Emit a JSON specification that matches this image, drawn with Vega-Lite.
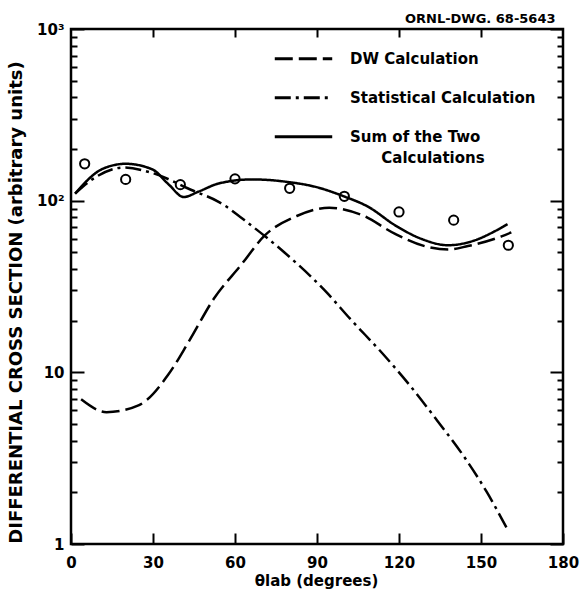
{
  "$schema": "https://vega.github.io/schema/vega-lite/v6.json",
  "width": 492,
  "height": 515,
  "autosize": "none",
  "padding": {"left": 71, "top": 29, "right": 21, "bottom": 51},
  "background": "white",
  "config": {
    "font": "DejaVu Sans",
    "view": {"stroke": "black", "strokeWidth": 2.5},
    "axis": {"grid": false, "domain": false, "tickColor": "black", "tickWidth": 2, "labelColor": "black", "labelFont": "DejaVu Sans", "labelFontWeight": "bold", "labelFontSize": 15, "titleColor": "black", "titleFont": "DejaVu Sans", "titleFontWeight": "bold", "titleFontSize": 15}
  },
  "data": {"values": [
      {"series": "DW Calculation", "angle": 3.7, "sigma": 6.96},
      {"series": "DW Calculation", "angle": 13, "sigma": 5.86},
      {"series": "DW Calculation", "angle": 24.9, "sigma": 6.45},
      {"series": "DW Calculation", "angle": 35.6, "sigma": 9.7},
      {"series": "DW Calculation", "angle": 43.3, "sigma": 15.3},
      {"series": "DW Calculation", "angle": 52.3, "sigma": 26.9},
      {"series": "DW Calculation", "angle": 62.1, "sigma": 42},
      {"series": "DW Calculation", "angle": 70.8, "sigma": 62.5},
      {"series": "DW Calculation", "angle": 82.6, "sigma": 81.4},
      {"series": "DW Calculation", "angle": 94.5, "sigma": 91},
      {"series": "DW Calculation", "angle": 106.3, "sigma": 82.6},
      {"series": "DW Calculation", "angle": 118.4, "sigma": 64.3},
      {"series": "DW Calculation", "angle": 130, "sigma": 54},
      {"series": "DW Calculation", "angle": 138, "sigma": 51.9},
      {"series": "DW Calculation", "angle": 145.2, "sigma": 54.4},
      {"series": "DW Calculation", "angle": 157.5, "sigma": 61.9},
      {"series": "DW Calculation", "angle": 161.1, "sigma": 65.3},
      {"series": "Statistical Calculation", "angle": 1.5, "sigma": 110},
      {"series": "Statistical Calculation", "angle": 9, "sigma": 137},
      {"series": "Statistical Calculation", "angle": 19.4, "sigma": 156},
      {"series": "Statistical Calculation", "angle": 29.7, "sigma": 145},
      {"series": "Statistical Calculation", "angle": 44.3, "sigma": 115},
      {"series": "Statistical Calculation", "angle": 54, "sigma": 98.5},
      {"series": "Statistical Calculation", "angle": 66, "sigma": 71.6},
      {"series": "Statistical Calculation", "angle": 78.1, "sigma": 49.9},
      {"series": "Statistical Calculation", "angle": 93.7, "sigma": 29},
      {"series": "Statistical Calculation", "angle": 102, "sigma": 20.6},
      {"series": "Statistical Calculation", "angle": 114.3, "sigma": 12.7},
      {"series": "Statistical Calculation", "angle": 124, "sigma": 8.38},
      {"series": "Statistical Calculation", "angle": 133.8, "sigma": 5.28},
      {"series": "Statistical Calculation", "angle": 143.6, "sigma": 3.26},
      {"series": "Statistical Calculation", "angle": 152.1, "sigma": 2.01},
      {"series": "Statistical Calculation", "angle": 159.4, "sigma": 1.24},
      {"series": "Sum of the Two Calculations", "angle": 1.5, "sigma": 110},
      {"series": "Sum of the Two Calculations", "angle": 11.5, "sigma": 153},
      {"series": "Sum of the Two Calculations", "angle": 20, "sigma": 164},
      {"series": "Sum of the Two Calculations", "angle": 29.8, "sigma": 152},
      {"series": "Sum of the Two Calculations", "angle": 35.8, "sigma": 124},
      {"series": "Sum of the Two Calculations", "angle": 41.2, "sigma": 105},
      {"series": "Sum of the Two Calculations", "angle": 46.7, "sigma": 113},
      {"series": "Sum of the Two Calculations", "angle": 54.1, "sigma": 126},
      {"series": "Sum of the Two Calculations", "angle": 66.3, "sigma": 133},
      {"series": "Sum of the Two Calculations", "angle": 78.5, "sigma": 129},
      {"series": "Sum of the Two Calculations", "angle": 90.6, "sigma": 119},
      {"series": "Sum of the Two Calculations", "angle": 99.8, "sigma": 106},
      {"series": "Sum of the Two Calculations", "angle": 108.8, "sigma": 92},
      {"series": "Sum of the Two Calculations", "angle": 118.5, "sigma": 72},
      {"series": "Sum of the Two Calculations", "angle": 128.2, "sigma": 59.9},
      {"series": "Sum of the Two Calculations", "angle": 137.9, "sigma": 55},
      {"series": "Sum of the Two Calculations", "angle": 147.7, "sigma": 58.7},
      {"series": "Sum of the Two Calculations", "angle": 155, "sigma": 66.3},
      {"series": "Sum of the Two Calculations", "angle": 159.7, "sigma": 73},
      {"series": "Experiment", "angle": 5, "sigma": 164},
      {"series": "Experiment", "angle": 20, "sigma": 133},
      {"series": "Experiment", "angle": 40, "sigma": 124},
      {"series": "Experiment", "angle": 60, "sigma": 134},
      {"series": "Experiment", "angle": 80, "sigma": 118},
      {"series": "Experiment", "angle": 100, "sigma": 106},
      {"series": "Experiment", "angle": 120, "sigma": 86},
      {"series": "Experiment", "angle": 140, "sigma": 77},
      {"series": "Experiment", "angle": 160, "sigma": 55}
  ]},
  "layer": [
    {
      "transform": [{"filter": "datum.series != 'Experiment'"}],
      "mark": {"type": "line", "color": "black", "strokeWidth": 2.5, "interpolate": "monotone"},
      "encoding": {
        "x": {"field": "angle", "type": "quantitative", "scale": {"domain": [0, 180], "nice": false},
          "axis": {"orient": "bottom", "values": [0, 30, 60, 90, 120, 150, 180], "tickSize": -11, "labelPadding": 22, "labelFlush": false, "title": "θlab (degrees)", "titleX": 245, "titleY": 36, "titleBaseline": "middle", "titleAlign": "center"}},
        "y": {"field": "sigma", "type": "quantitative", "scale": {"type": "log", "domain": [1, 1000], "nice": false},
          "axis": {"orient": "left", "values": [1, 2, 3, 4, 5, 6, 7, 8, 9, 10, 20, 30, 40, 50, 60, 70, 80, 90, 100, 200, 300, 400, 500, 600, 700, 800, 900, 1000],
            "tickSize": {"condition": {"test": "datum.value == 1 || datum.value == 10 || datum.value == 100 || datum.value == 1000", "value": -13}, "value": -6},
            "labelPadding": 20,
            "labelExpr": "datum.value == 1000 ? '10³' : datum.value == 100 ? '10²' : datum.value == 10 ? '10' : datum.value == 1 ? '1' : ''",
            "title": "DIFFERENTIAL CROSS SECTION (arbitrary units)", "titleFontSize": 18, "titleX": -55, "titleY": 273, "titleBaseline": "middle", "titleAlign": "center", "titleAngle": -90}},
        "strokeDash": {"field": "series", "type": "nominal",
          "scale": {"domain": ["DW Calculation", "Statistical Calculation", "Sum of the Two Calculations"], "range": [[18, 6], [16, 5, 3, 5], [1, 0]]},
          "legend": {"orient": "none", "direction": "vertical", "legendX": 202, "legendY": -0.7, "title": null, "padding": 0,
            "symbolType": "stroke", "symbolSize": 3300, "symbolStrokeWidth": 3, "symbolStrokeColor": "black", "rowPadding": -36.4,
            "labelFontSize": 15, "labelFontWeight": "bold", "labelFont": "DejaVu Sans", "labelColor": "black", "labelOffset": 16, "labelLimit": 400,
            "labelExpr": "datum.label == 'Sum of the Two Calculations' ? ['Sum of the Two', '\u200b\u00a0\u00a0\u00a0\u00a0\u00a0\u00a0Calculations'] : datum.label",
            "encode": {"labels": {"update": {"lineHeight": {"value": 21}}}}}}
      }
    },
    {
      "transform": [{"filter": "datum.series == 'Experiment'"}],
      "mark": {"type": "point", "shape": "circle", "filled": false, "color": "black", "size": 85, "strokeWidth": 2, "opacity": 1},
      "encoding": {
        "x": {"field": "angle", "type": "quantitative", "scale": {"domain": [0, 180], "nice": false},
          "axis": {"orient": "top", "values": [30, 60, 90, 120, 150], "tickSize": -8, "labels": false,
            "title": "ORNL-DWG. 68-5643", "titleFontSize": 13, "titleX": 484, "titleY": -7, "titleAlign": "right", "titleBaseline": "alphabetic", "titleAngle": 0}},
        "y": {"field": "sigma", "type": "quantitative", "scale": {"type": "log", "domain": [1, 1000], "nice": false},
          "axis": {"orient": "right", "values": [1, 2, 3, 4, 5, 6, 7, 8, 9, 10, 20, 30, 40, 50, 60, 70, 80, 90, 100, 200, 300, 400, 500, 600, 700, 800, 900, 1000],
            "tickSize": {"condition": {"test": "datum.value == 1 || datum.value == 10 || datum.value == 100 || datum.value == 1000", "value": -13}, "value": -6},
            "labels": false, "title": null}}
      }
    }
  ],
  "resolve": {"axis": {"x": "independent", "y": "independent"}}
}
